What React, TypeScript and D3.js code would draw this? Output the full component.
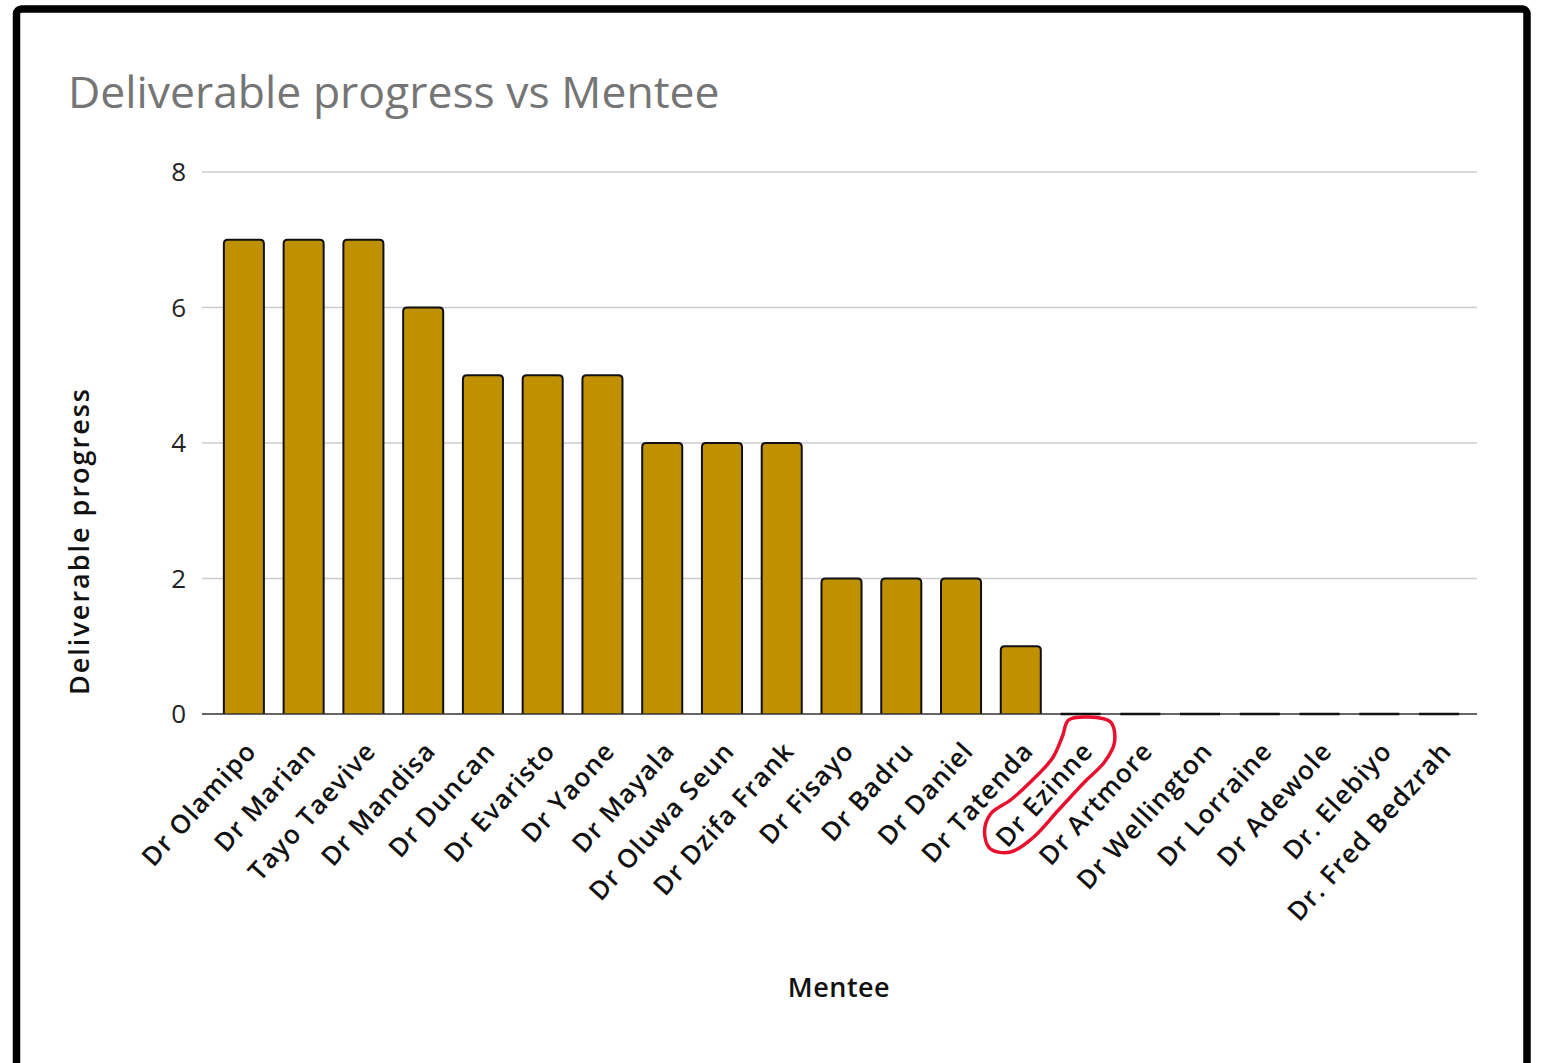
import React from 'react';
import * as d3 from 'd3';

const mentees = [
  'Dr Olamipo', 'Dr Marian', 'Tayo Taevive', 'Dr Mandisa', 'Dr Duncan', 'Dr Evaristo', 'Dr Yaone',
  'Dr Mayala', 'Dr Oluwa Seun', 'Dr Dzifa Frank', 'Dr Fisayo', 'Dr Badru', 'Dr Daniel', 'Dr Tatenda',
  'Dr Ezinne', 'Dr Artmore', 'Dr Wellington', 'Dr Lorraine', 'Dr Adewole', 'Dr. Elebiyo', 'Dr. Fred Bedzrah',
];
const progress = [7, 7, 7, 6, 5, 5, 5, 4, 4, 4, 2, 2, 2, 1, 0, 0, 0, 0, 0, 0, 0];
const yTicks = [0, 2, 4, 6, 8];
const circled = 'Dr Ezinne';

// hand drawn ring around the circled label, offsets from band centre / baseline
const ring: [number, number][] = [
  [-12, 6], [8, 3], [30, 8], [34, 28], [24, 48], [4, 68], [-22, 96], [-48, 124], [-70, 138],
  [-90, 135], [-96, 118], [-90, 100], [-70, 86], [-48, 66], [-28, 44], [-18, 22],
];

const W = 1542;
const H = 1063;
const font = "'Open Sans', 'Noto Sans', sans-serif";

export default function App() {
  const left = 202, right = 1477, top = 172, bottom = 714;
  const x = d3.scaleBand<string>().domain(mentees).range([214, 1469]).paddingInner(0.33).paddingOuter(0.165);
  const y = d3.scaleLinear().domain([0, 8]).range([bottom, top]);

  const barPath = (name: string, v: number) => {
    const x0 = x(name)!;
    const x1 = x0 + x.bandwidth();
    const y0 = y(0);
    const y1 = y(v);
    const p = d3.path();
    const r = 4;
    p.moveTo(x0, y0);
    p.lineTo(x0, y1 + r);
    p.quadraticCurveTo(x0, y1, x0 + r, y1);
    p.lineTo(x1 - r, y1);
    p.quadraticCurveTo(x1, y1, x1, y1 + r);
    p.lineTo(x1, y0);
    return p.toString();
  };

  const cx = x(circled)! + x.bandwidth() / 2;
  const ringLine = d3.line<[number, number]>()
    .x(d => cx + d[0])
    .y(d => bottom + d[1])
    .curve(d3.curveCatmullRomClosed);

  return (
    <svg width={W} height={H} style={{ position: 'absolute', left: 0, top: 0, background: '#fff' }}>
      <rect x={16.5} y={9} width={1510.5} height={1060} rx={5} fill="#fff" stroke="#000" strokeWidth={7.5} />
      <text x={68} y={108} fontFamily={font} fontSize={44.5} fill="#757575">Deliverable progress vs Mentee</text>

      {yTicks.filter(t => t > 0).map(t => (
        <line key={t} x1={left} x2={right} y1={y(t)} y2={y(t)} stroke="#cccccc" strokeWidth={1.5} />
      ))}
      {yTicks.map(t => (
        <text key={t} x={186} y={y(t)} dy="0.36em" textAnchor="end" fontFamily={font} fontSize={26} fill="#222">{t}</text>
      ))}

      {mentees.map((m, i) => progress[i] > 0 ? (
        <path key={m} d={barPath(m, progress[i])} fill="#bf9000" stroke="#111" strokeWidth={2} strokeLinejoin="round" />
      ) : null)}
      <line x1={left} x2={right} y1={bottom} y2={bottom} stroke="#333" strokeWidth={1.5} />
      {mentees.map((m, i) => progress[i] === 0 ? (
        <line key={m} x1={x(m)!} x2={x(m)! + x.bandwidth()} y1={bottom} y2={bottom} stroke="#111" strokeWidth={2.5} />
      ) : null)}

      {mentees.map(m => (
        <text key={m} transform={`translate(${x(m)! + x.bandwidth() / 2 + 14},${bottom + 38}) rotate(-48)`}
          textAnchor="end" fontFamily={font} fontSize={26} fontWeight={600} letterSpacing={1.2} fill="#111">{m}</text>
      ))}

      <text transform={`translate(89,541) rotate(-90)`} textAnchor="middle" fontFamily={font} fontSize={27} fontWeight={600} letterSpacing={2} fill="#111">Deliverable progress</text>
      <text x={839} y={997} textAnchor="middle" fontFamily={font} fontSize={27} fontWeight={600} letterSpacing={0.5} fill="#111">Mentee</text>

      <path d={ringLine(ring)!} fill="none" stroke="#e8112d" strokeWidth={3.5} />
    </svg>
  );
}
